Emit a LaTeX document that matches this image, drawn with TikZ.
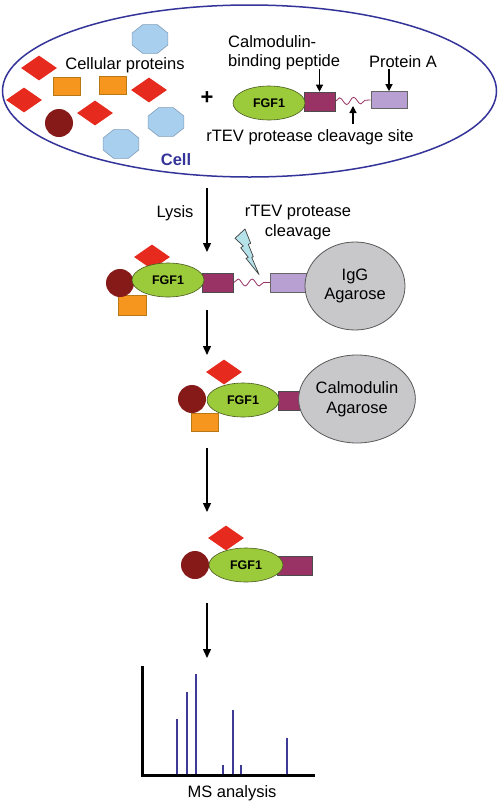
\documentclass[tikz,border=0pt]{standalone}
\usepackage{fontspec}
\setmainfont{Liberation Sans}
\usetikzlibrary{shapes.geometric,arrows.meta,decorations.pathmorphing}
\definecolor{navy}{HTML}{333399}
\definecolor{cred}{HTML}{E62A1E}
\definecolor{corange}{HTML}{F7961E}
\definecolor{corangeline}{HTML}{B87818}
\definecolor{cdark}{HTML}{861A18}
\definecolor{cblue}{HTML}{A8CFEE}
\definecolor{cblueline}{HTML}{7F9CB8}
\definecolor{cgreen}{HTML}{9BCB3B}
\definecolor{cgreenline}{HTML}{4A5A20}
\definecolor{cpurple}{HTML}{993366}
\definecolor{clilac}{HTML}{B8A0D2}
\definecolor{cgray}{HTML}{C8C8CA}
\definecolor{cpeak}{HTML}{3E3A96}
\definecolor{cbolt}{HTML}{B6E2EA}
\begin{document}
\begin{tikzpicture}[x=1pt,y=-1pt,
  lbl/.style={inner sep=0pt, font=\fontsize{16.5}{19.5}\selectfont},
  fgf/.style={ellipse, draw=cgreenline, line width=0.6pt, fill=cgreen, minimum width=72pt, minimum height=34pt, inner sep=0pt, font=\bfseries\fontsize{12.5}{14}\selectfont},
  reddia/.style={diamond, fill=cred, minimum width=36pt, minimum height=25pt, inner sep=0pt},
  orbox/.style={rectangle, fill=corange, draw=corangeline, line width=0.5pt, minimum width=27pt, minimum height=18pt, inner sep=0pt},
  dball/.style={circle, fill=cdark, minimum size=28pt, inner sep=0pt},
  octo/.style={regular polygon, regular polygon sides=8, fill=cblue, draw=cblueline, line width=0.6pt, minimum size=31pt, inner sep=0pt, xscale=1.25, transform shape},
  cbp/.style={rectangle, fill=cpurple, draw=black!70, line width=0.6pt, minimum width=31pt, minimum height=19pt, inner sep=0pt},
  prota/.style={rectangle, fill=clilac, draw=black!60, line width=0.6pt, minimum width=36pt, minimum height=17pt, inner sep=0pt},
  bead/.style={ellipse, fill=cgray, draw=black!65, line width=0.8pt, minimum width=100pt, minimum height=88pt, inner sep=0pt, align=center, font=\fontsize{16.5}{19.5}\selectfont},
  linker/.style={cpurple, line width=0.8pt, decorate, decoration={snake, amplitude=3.5pt, segment length=14pt}},
  flow/.style={line width=1.4pt, -{Triangle[length=9pt,width=8pt]}},
  ptr/.style={line width=1.2pt, -{Triangle[length=7pt,width=7pt]}},
  peak/.style={cpeak, line width=1.8pt},
]
\useasboundingbox (0,0) rectangle (499,809);

% ---------- cell ----------
\node[ellipse, draw=navy, line width=1.5pt, minimum width=494pt, minimum height=172pt, inner sep=0pt] (cell) at (249.5,91) {};
\node[reddia] (d1) at (39,68) {};
\node[reddia] (d2) at (24,100) {};
\node[reddia] (d3) at (149,90) {};
\node[reddia] (d4) at (95,113) {};
\node[orbox] (o1) at (66.5,86.5) {};
\node[orbox] (o2) at (113,85.5) {};
\node[dball] (c1) at (59,123) {};
\node[octo] (h1) at (150,39) {};
\node[octo] (h2) at (166,122) {};
\node[octo] (h3) at (121,144) {};
\node[lbl] (tcp) at (125,65) {Cellular proteins};
\node[lbl, text=navy, font=\bfseries\fontsize{16.5}{19.5}\selectfont] (tcell) at (176,160) {Cell};
\node[inner sep=0pt, font=\bfseries\fontsize{22}{24}\selectfont] (plus) at (207,98) {+};

% fusion construct
\node[cbp] (b1) at (319.5,101.5) {};
\node[fgf] (f1) at (269,103) {FGF1};
\node[prota] (p1) at (389,100) {};
\draw[linker] (b1.east) -- (p1.west);
\node[lbl, align=left, anchor=west] (tcbp) at (228,52.5) {Calmodulin-\\binding peptide};
\node[lbl] (tpa) at (403,62) {Protein A};
\node[lbl] (trtev) at (310,137) {rTEV protease cleavage site};
\coordinate (cbpA) at (319.5,69);
\coordinate (paA) at (389,69);
\coordinate (cutA) at (353,124);
\coordinate (cutB) at (353,106);
\draw[ptr] (cbpA) -- (b1.north);
\draw[ptr] (paA) -- (p1.north);
\draw[ptr] (cutA) -- (cutB);

% ---------- arrow 1 ----------
\coordinate (a1s) at (207,188);
\coordinate (a1e) at (207,252);
\draw[flow] (a1s) -- (a1e);
\node[lbl] (tlys) at (175,213) {Lysis};
\node[lbl, align=center] (tcleave) at (298,222.5) {rTEV protease\\cleavage};

% ---------- complex 2 ----------
\node[reddia] (d5) at (152,257) {};
\node[orbox, minimum width=28pt, minimum height=20pt] (o3) at (132,305) {};
\node[dball] (c2) at (120,283) {};
\node[cbp] (b2) at (218,282.5) {};
\node[fgf] (f2) at (168,280) {FGF1};
\node[prota, minimum height=19pt] (p2) at (288.5,282.5) {};
\draw[linker] (b2.east) -- (p2.west);
\node[bead] (igg) at (355,286) {IgG\\Agarose};
\draw[fill=cbolt, draw=black!75, line width=0.7pt, line join=round]
  (235,238.3) -- (245,229) -- (250.7,243.3) -- (248.3,244.3) -- (253.3,256.7) -- (251.7,257.3)
  -- (259,274.5) -- (246,258.3) -- (248.3,257.3) -- (240.7,247.7) -- (243.3,246) -- cycle;

% ---------- arrow 2 ----------
\coordinate (a2s) at (207,310);
\coordinate (a2e) at (207,355);
\draw[flow] (a2s) -- (a2e);

% ---------- complex 3 ----------
\node[reddia] (d6) at (224,372) {};
\node[orbox] (o4) at (204.5,422) {};
\node[dball] (c3) at (192,399) {};
\node[cbp, minimum width=32pt] (b3) at (294,401) {};
\node[fgf] (f3) at (243,400) {FGF1};
\node[bead, minimum width=101pt] (cam) at (357,399) {Calmodulin\\Agarose};

% ---------- arrow 3 ----------
\coordinate (a3s) at (207,448);
\coordinate (a3e) at (207,512);
\draw[flow] (a3s) -- (a3e);

% ---------- complex 4 ----------
\node[reddia] (d7) at (226,538) {};
\node[dball] (c4) at (195,565) {};
\node[cbp, minimum width=35pt] (b4) at (294.5,565.5) {};
\node[fgf, minimum width=74pt] (f4) at (246,565) {FGF1};

% ---------- arrow 4 ----------
\coordinate (a4s) at (207,603);
\coordinate (a4e) at (207,658);
\draw[flow] (a4s) -- (a4e);

% ---------- MS spectrum ----------
\coordinate (ytop) at (142,666);
\coordinate (orig) at (142,775);
\coordinate (xend) at (315,775);
\draw[peak] (177,775) -- (177,719);
\draw[peak] (187,775) -- (187,692);
\draw[peak] (196,775) -- (196,674);
\draw[peak] (223,775) -- (223,765);
\draw[peak] (233,775) -- (233,710);
\draw[peak] (241,775) -- (241,765);
\draw[peak] (287,775) -- (287,738);
\draw[line width=3pt] (ytop) -- (orig) -- (xend);
\node[lbl] (tms) at (232,793) {MS analysis};
\end{tikzpicture}
\end{document}
